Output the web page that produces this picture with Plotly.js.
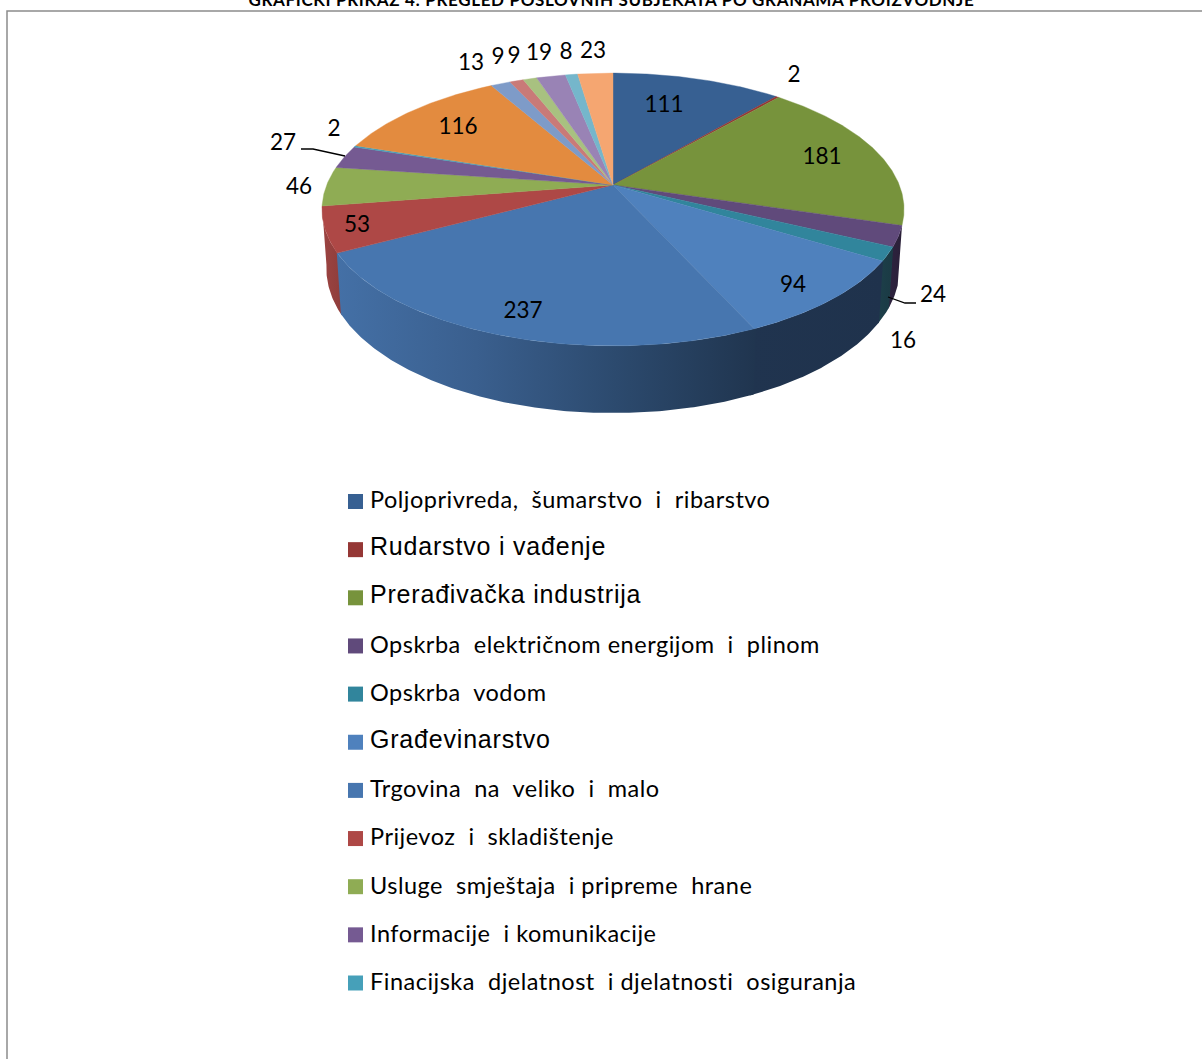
<!DOCTYPE html>
<html>
<head>
<meta charset="utf-8">
<script src="https://cdn.plot.ly/plotly-3.0.1.min.js"></script>
<style>html,body{margin:0;padding:0;background:#fff;overflow:hidden}</style>
</head>
<body>
<div id="chart" style="width:1202px;height:1059px"></div>
<script>
// ---- data ----
const titleText = "GRAFIČKI PRIKAZ 4: PREGLED POSLOVNIH SUBJEKATA PO GRANAMA PROIZVODNJE";
const values = [111, 2, 181, 24, 16, 94, 237, 53, 46, 27, 2, 116, 13, 9, 9, 19, 8, 23];
const categories = [
  "Poljoprivreda,  šumarstvo  i  ribarstvo",
  "Rudarstvo i vađenje",
  "Prerađivačka industrija",
  "Opskrba  električnom energijom  i  plinom",
  "Opskrba  vodom",
  "Građevinarstvo",
  "Trgovina  na  veliko  i  malo",
  "Prijevoz  i  skladištenje",
  "Usluge  smještaja  i pripreme  hrane",
  "Informacije  i komunikacije",
  "Finacijska  djelatnost  i djelatnosti  osiguranja"
];
const topColors = ["#376092","#953735","#77933c","#604a7b","#31859c","#4f81bd","#4776af","#ae4846",
  "#8fac54","#755a92","#46a0b9","#e38b3f","#7e9bc8","#c97a78","#a8c180","#9983b5","#75b6cb","#f5a671"];
const wallColors = {
  3: ["#2e2340","#2a2038"],
  4: ["#1d3f4a","#1a3a44"],
  5: ["#20344f","#1f324c"],
  6: ["#4470a6","#3a5f8e","#2c4a6e","#20354f"],
  7: ["#9c4442","#8f3d3b"]
};
const legendFonts = ["Lato","Liberation Sans","Liberation Sans","Lato","Lato","Liberation Sans","Lato","Lato","Lato","Lato","Lato"];
const legendSizes = [23.5,25,25,23.5,23.5,25,23.5,23.5,23.5,23.5,23.5];
const legendTracking = [0.5,0.8,0.8,0.5,0.5,0.8,0.5,0.5,0.5,0.5,0.5];

// ---- placement of the labels (pixels of the page) ----
const labelSpots = [[664,106],[794,76],[822,158],[933,296],[903,342],[793,286],[523,312],[357,226],[299,188],
  [283,144],[334,130],[458,128],[471,64],[498,58],[514,57],[539,54],[566,53],[593,52]];

// ---- projection of the tilted disc ----
const disc = {cx:613, cy:185, a:286.3, b:132, p:0.1795};
const base = {cy:242.5, sx:0.985, sy:1.06};
function project(deg, low){
  const t = deg*Math.PI/180, d = 1 + disc.p*Math.cos(t);
  const dx = disc.a*Math.sin(t)/d, dy = disc.b*Math.cos(t)/d;
  return low ? [disc.cx + base.sx*dx, base.cy - base.sy*dy] : [disc.cx + dx, disc.cy - dy];
}
function arc(a0, a1, low){
  const n = Math.max(2, Math.ceil(Math.abs(a1-a0)*2)), out = [];
  for(let i=0;i<=n;i++) out.push(project(a0+(a1-a0)*i/n, low));
  return out;
}
const total = values.reduce((s,v)=>s+v,0);
let run = 0;
const wedges = values.map(v=>{ const a0 = run/total*360; run += v; return [a0, run/total*360]; });

const traces = [];
// side walls, outer ones first; a hair of overlap closes the seams
[3,7,4,5,6].forEach(i=>{
  const a0 = wedges[i][0] - (i===3?0:0.3), a1 = wedges[i][1] + (i===7?0:0.3);
  const pts = arc(a0,a1,false).concat(arc(a1,a0,true));
  pts.push(pts[0]);
  const xs = pts.map(p=>p[0]), cols = wallColors[i];
  traces.push({type:"scatter",mode:"lines",x:xs,y:pts.map(p=>p[1]),fill:"toself",line:{width:0},
    fillgradient:{type:"horizontal",start:Math.min(...xs),stop:Math.max(...xs),
      colorscale:cols.map((c,k)=>[k/(cols.length-1),c])},
    showlegend:false,hoverinfo:"skip"});
});
// top surface
wedges.forEach(([a0,a1],i)=>{
  const pts = [[disc.cx,disc.cy]].concat(arc(a0,a1,false));
  pts.push(pts[0]);
  traces.push({type:"scatter",mode:"lines",x:pts.map(p=>p[0]),y:pts.map(p=>p[1]),fill:"toself",
    fillcolor:topColors[i],line:{width:0.4,color:topColors[i]},showlegend:false,hoverinfo:"skip"});
});
// value labels
traces.push({type:"scatter",mode:"text",x:labelSpots.map(s=>s[0]),y:labelSpots.map(s=>s[1]),
  text:values.map(String),textposition:"middle center",
  textfont:{family:"Lato",size:22.5,color:"#000"},showlegend:false,hoverinfo:"skip"});
// legend
const legendY = categories.map((c,i)=>501.5+48.15*i);
traces.push({type:"scatter",mode:"markers",x:categories.map(()=>355.5),y:legendY,
  marker:{symbol:"square",size:15,color:topColors.slice(0,categories.length),line:{width:0}},
  showlegend:false,hoverinfo:"skip"});
traces.push({type:"scatter",mode:"text",x:categories.map(()=>370),
  y:legendY.map((y,i)=>legendFonts[i]==="Lato"?y+1:y-1),
  text:categories,textposition:"middle right",
  textfont:{family:legendFonts,size:legendSizes,color:"#000"},showlegend:false,hoverinfo:"skip"});

const layout = {
  width:1202,height:1059,margin:{l:0,r:0,t:0,b:0},
  paper_bgcolor:"#fff",plot_bgcolor:"#fff",showlegend:false,hovermode:false,
  title:{text:"<b>"+titleText+"</b>",font:{family:"Lato",size:17,color:"#000"},
    x:0.5087,xanchor:"center",xref:"paper",y:0.9995,yanchor:"middle",yref:"container",pad:{t:0,b:0,l:0,r:0}},
  xaxis:{range:[0,1202],visible:false,fixedrange:true},
  yaxis:{range:[1059,0],visible:false,fixedrange:true},
  shapes:[
    {type:"path",path:"M 7 1059 L 7 11 L 1202 11",xref:"x",yref:"y",line:{color:"#8c8c8c",width:1.5}},
    {type:"path",path:"M 301 149 L 313 149 L 345 156",xref:"x",yref:"y",line:{color:"#000",width:1.3}},
    {type:"path",path:"M 916 303 L 905 303 L 888 297",xref:"x",yref:"y",line:{color:"#000",width:1.3}}
  ]
};
Plotly.newPlot("chart",traces,layout,{displayModeBar:false,staticPlot:true}).then(()=>{
  // the reference text is set wider than the installed fonts
  const groups = document.querySelectorAll(".scatterlayer .trace");
  groups[groups.length-1].querySelectorAll(".textpoint text").forEach((el,i)=>{
    el.style.letterSpacing = legendTracking[i]+"px";
  });
  const t = document.querySelector(".gtitle");
  if(t) t.style.letterSpacing = "0.65px";
});
</script>
</body>
</html>
